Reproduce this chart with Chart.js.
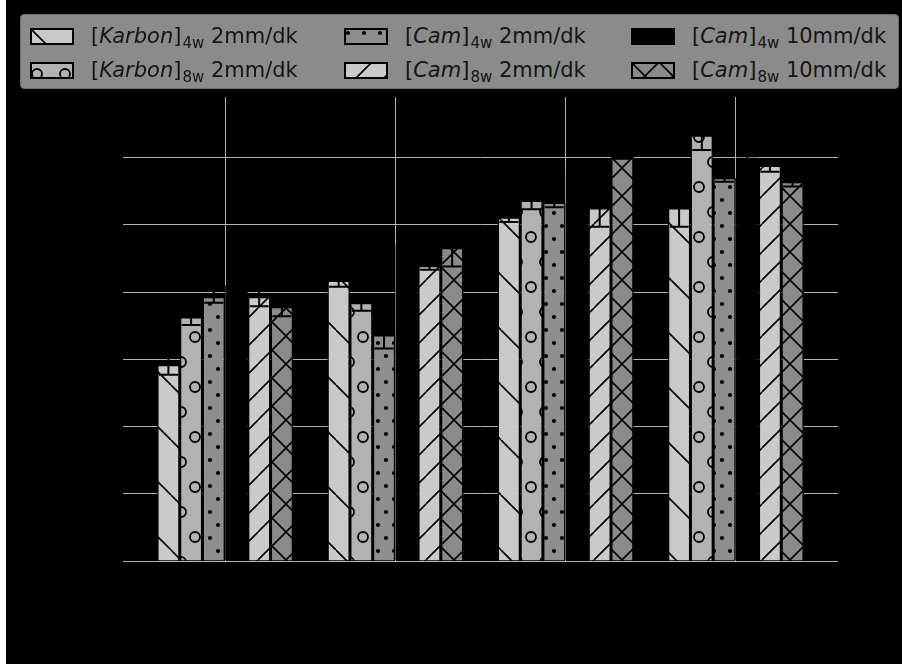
<!DOCTYPE html>
<html>
<head>
<meta charset="utf-8">
<script src="https://cdn.jsdelivr.net/npm/chart.js@4.4.0/dist/chart.umd.min.js"></script>
<style>
    html, body { margin: 0; padding: 0; background: #fff; }
    #wrap { position: absolute; left: 6px; top: 0; width: 896px; height: 664px; background: #000; }
    #chart { position: absolute; left: 0; top: 0; }
    #legend {
        position: absolute; left: 14px; top: 14px; width: 877px; height: 73px;
        background: #8b8b8b; border: 1px solid #6f6f6f; border-radius: 4px;
        font-family: "DejaVu Sans", sans-serif; font-size: 21px; color: #151515;
    }
    .item { position: absolute; height: 24px; display: flex; align-items: center; white-space: nowrap; }
    .item canvas { margin-right: 17px; }
    .item sub { font-size: 15px; vertical-align: -5px; line-height: 0; margin-left: 1px; }
</style>
</head>
<body>
<div id="wrap">
    <canvas id="chart" width="896" height="664"></canvas>
    <div id="legend"></div>
</div>
<script>
// categories sit at x = 0..3 on a linear axis (labels are not visible in the picture)
const categories = [0, 1, 2, 3];
const yTicks = [0, 100, 200, 300, 400, 500, 600];

const karbon4w = [292, 417, 511, 525];
const karbon4wErr = [15, 9, 7, 28];
const karbon8w = [363, 384, 536, 633];
const karbon8wErr = [12, 12, 13, 22];
const cam4w2 = [393, 336, 533, 570];
const cam4w2Err = [9, 20, 7, 6];
const cam4w10 = [410, 470, 580, 600];
const cam4w10Err = [10, 10, 10, 10];
const cam8w2 = [393, 439, 525, 588];
const cam8w2Err = [14, 6, 28, 9];
const cam8w10 = [378, 466, 601, 564];
const cam8w10Err = [14, 28, 3, 7];

// hatch tiles, anchored to the canvas like matplotlib hatches
const makeTile = (kind, bg) => {
    const c = document.createElement('canvas');
    let w = 28, h = 28;
    if (kind === 'o') { w = 28; h = 50; }
    if (kind === '.') { w = 16; h = 26; }
    if (kind === '\\') { w = 55; h = 55; }
    c.width = w; c.height = h;
    const g = c.getContext('2d');
    g.fillStyle = bg;
    g.fillRect(0, 0, w, h);
    g.strokeStyle = '#000';
    g.fillStyle = '#000';
    g.lineWidth = 1.6;
    if (kind === '/' || kind === 'x') {
        g.beginPath();
        for (let k = -1; k <= 1; k++) {
            g.moveTo(k * w, h);
            g.lineTo(k * w + w, 0);
        }
        g.stroke();
    }
    if (kind === '\\' || kind === 'x') {
        g.beginPath();
        for (let k = -1; k <= 1; k++) {
            g.moveTo(k * w, 0);
            g.lineTo(k * w + w, h);
        }
        g.stroke();
    }
    if (kind === 'o') {
        g.lineWidth = 1.8;
        g.beginPath();
        g.arc(7, 12, 5, 0, Math.PI * 2);
        g.moveTo(26, 37);
        g.arc(21, 37, 5, 0, Math.PI * 2);
        g.stroke();
    }
    if (kind === '.') {
        g.beginPath();
        g.arc(4, 5, 2.1, 0, Math.PI * 2);
        g.moveTo(14.1, 18);
        g.arc(12, 18, 2.1, 0, Math.PI * 2);
        g.fill();
    }
    return c;
};

const series = [
    { label: ['Karbon', '4w', ' 2mm/dk'], data: karbon4w, err: karbon4wErr, bg: '#c9c9c9', hatch: '\\' },
    { label: ['Karbon', '8w', ' 2mm/dk'], data: karbon8w, err: karbon8wErr, bg: '#b2b2b2', hatch: 'o' },
    { label: ['Cam', '4w', ' 2mm/dk'], data: cam4w2, err: cam4w2Err, bg: '#8e8e8e', hatch: '.' },
    { label: ['Cam', '4w', ' 10mm/dk'], data: cam4w10, err: cam4w10Err, bg: '#000000', hatch: null },
    { label: ['Cam', '8w', ' 2mm/dk'], data: cam8w2, err: cam8w2Err, bg: '#cacaca', hatch: '/' },
    { label: ['Cam', '8w', ' 10mm/dk'], data: cam8w10, err: cam8w10Err, bg: '#8a8a8a', hatch: 'x' }
];

const ctx = document.getElementById('chart').getContext('2d');
const fillFor = (s, g) => s.hatch ? g.createPattern(makeTile(s.hatch, s.bg), 'repeat') : s.bg;

const errorBars = {
    id: 'errorBars',
    afterDatasetsDraw(chart) {
        const c = chart.ctx;
        const y = chart.scales.y;
        chart.data.datasets.forEach((ds, i) => {
            chart.getDatasetMeta(i).data.forEach((bar, j) => {
                const v = ds.data[j].y;
                const e = ds.errors[j];
                const top = y.getPixelForValue(v + e);
                const bot = y.getPixelForValue(v - e);
                const half = bar.width * 0.42;
                c.save();
                c.strokeStyle = '#000';
                c.lineWidth = 2;
                c.beginPath();
                c.moveTo(bar.x, top); c.lineTo(bar.x, bot);
                c.moveTo(bar.x - half, top); c.lineTo(bar.x + half, top);
                c.moveTo(bar.x - half, bot); c.lineTo(bar.x + half, bot);
                c.stroke();
                c.restore();
            });
        });
    }
};

new Chart(ctx, {
    type: 'bar',
    data: {
        datasets: series.map(s => ({
            label: s.label.join(''),
            data: s.data.map((v, i) => ({ x: categories[i], y: v })),
            errors: s.err,
            backgroundColor: fillFor(s, ctx),
            borderColor: '#000',
            borderWidth: 1.5,
            categoryPercentage: 0.8,
            barPercentage: 1.0
        }))
    },
    options: {
        responsive: false,
        animation: false,
        layout: { padding: { left: 117, right: 64, top: 97, bottom: 103 } },
        plugins: { legend: { display: false }, tooltip: { enabled: false } },
        scales: {
            x: {
                type: 'linear', min: -0.6, max: 3.6, z: 1, offset: false,
                afterBuildTicks: s => { s.ticks = categories.map(v => ({ value: v })); },
                ticks: { display: false },
                grid: { color: '#b3b3b3', lineWidth: 1, drawTicks: false, offset: false },
                border: { display: false }
            },
            y: {
                min: 0, max: 690, z: 1,
                afterBuildTicks: s => { s.ticks = yTicks.map(v => ({ value: v })); },
                ticks: { display: false },
                grid: { color: '#b3b3b3', lineWidth: 1, drawTicks: false },
                border: { display: false }
            }
        }
    },
    plugins: [errorBars]
});

// legend in matplotlib column order
const legendOrder = [0, 1, 2, 4, 3, 5];
const colX = [9, 323, 610];
const rowY = [9, 43];
const legend = document.getElementById('legend');
legendOrder.forEach((si, k) => {
    const s = series[si];
    const item = document.createElement('div');
    item.className = 'item';
    item.style.left = colX[Math.floor(k / 2)] + 'px';
    item.style.top = rowY[k % 2] + 'px';
    const sw = document.createElement('canvas');
    sw.width = 44; sw.height = 17;
    const g = sw.getContext('2d');
    g.fillStyle = fillFor(s, g);
    g.fillRect(0, 0, 44, 17);
    g.strokeStyle = '#000';
    g.lineWidth = 2;
    g.strokeRect(1, 1, 42, 15);
    item.appendChild(sw);
    const t = document.createElement('span');
    t.innerHTML = '[<i>' + s.label[0] + '</i>]<sub>' + s.label[1] + '</sub>' + s.label[2];
    item.appendChild(t);
    legend.appendChild(item);
});
</script>
</body>
</html>
